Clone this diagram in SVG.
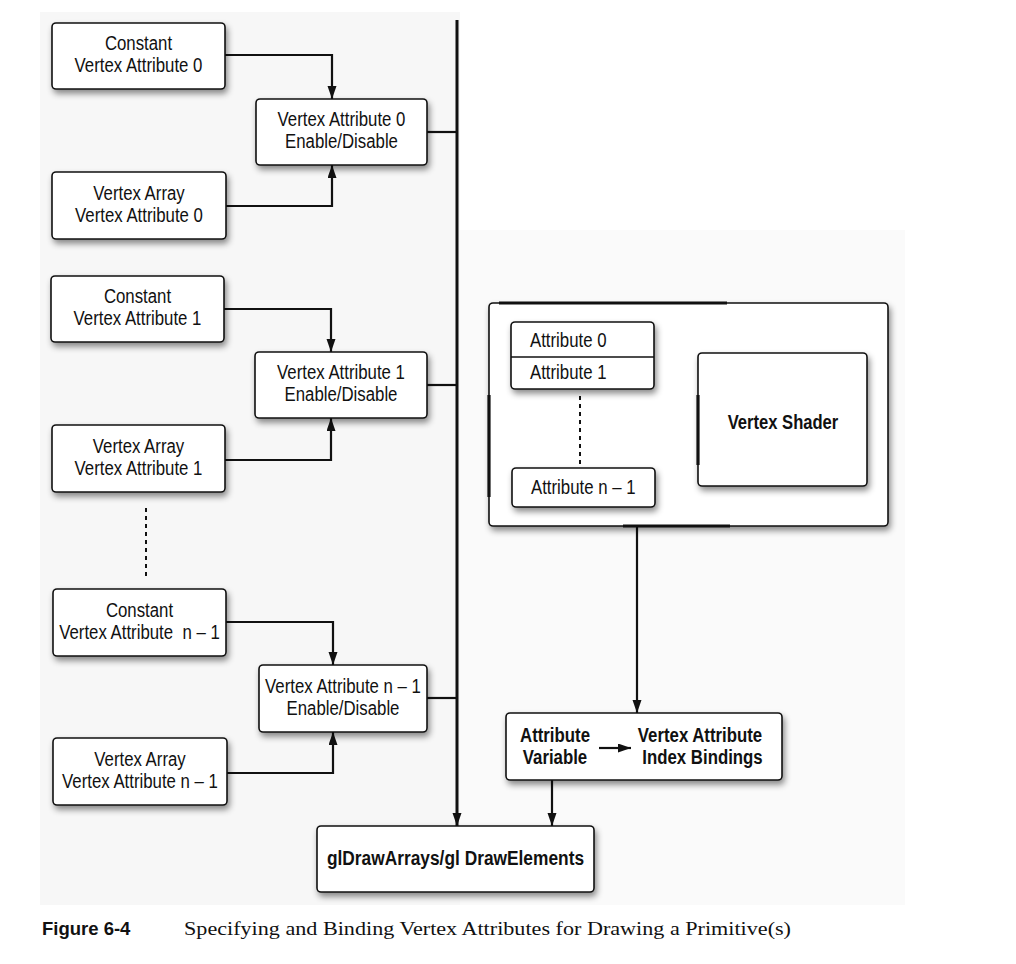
<svg xmlns="http://www.w3.org/2000/svg" width="1016" height="964" viewBox="0 0 1016 964">
<style>
.box{fill:#fff;stroke:#111;stroke-width:1.6;filter:url(#sh)}
.t{font-family:"Liberation Sans",Arial,sans-serif;font-size:21px;fill:#111;text-anchor:middle}
.tl{text-anchor:start}
.b{font-weight:bold}
.c{fill:none;stroke:#111;stroke-width:2.2}
.bus{fill:none;stroke:#111;stroke-width:3}
.dot{fill:none;stroke:#111;stroke-width:2;stroke-dasharray:4,4}
.heavy{fill:none;stroke:#111;stroke-width:3.2}
</style>
<defs>
<filter id="sh" x="-10%" y="-10%" width="130%" height="140%">
<feDropShadow dx="2" dy="4" stdDeviation="3" flood-color="#000" flood-opacity="0.45"/>
</filter>
<marker id="ah" markerUnits="userSpaceOnUse" markerWidth="14" markerHeight="10" refX="13" refY="4.5" orient="auto">
<path d="M0,0 L13,4.5 L0,9 z" fill="#111"/>
</marker>
</defs>
<rect width="1016" height="964" fill="#fff"/>
<rect x="40" y="12" width="420" height="893" fill="#f7f7f7"/>
<rect x="460" y="230" width="445" height="675" fill="#fafafa"/>

<g id="connectors">
<path class="c" d="M225,55 H332 V99" marker-end="url(#ah)"/>
<path class="c" d="M226,206 H332 V165" marker-end="url(#ah)"/>
<path class="c" d="M427,132 H457"/>
<path class="c" d="M224,309 H331 V352" marker-end="url(#ah)"/>
<path class="c" d="M225,460 H331 V418" marker-end="url(#ah)"/>
<path class="c" d="M427,385 H457"/>
<path class="c" d="M226,622 H333 V665" marker-end="url(#ah)"/>
<path class="c" d="M227,773 H333 V732" marker-end="url(#ah)"/>
<path class="c" d="M427,698 H457"/>
<path class="bus" d="M457,20 V826" marker-end="url(#ah)"/>
<path class="c" d="M637,527 V713" marker-end="url(#ah)"/>
<path class="c" d="M552,780 V826" marker-end="url(#ah)"/>
<path class="c" d="M641,421 H680" marker-end="url(#ah)"/>
<path class="dot" d="M146,508 V578"/>
</g>

<g id="const0"><rect class="box" x="52" y="23" width="173" height="66" rx="4"/>
<text class="t" transform="matrix(0.8 0 0 1 138.5 50)">Constant</text><text class="t" transform="matrix(0.8 0 0 1 138.5 72)">Vertex Attribute 0</text></g>
<g id="enable0"><rect class="box" x="256" y="99" width="171" height="66" rx="4"/>
<text class="t" transform="matrix(0.8 0 0 1 341.5 126)">Vertex Attribute 0</text><text class="t" transform="matrix(0.8 0 0 1 341.5 148)">Enable/Disable</text></g>
<g id="array0"><rect class="box" x="52" y="172" width="174" height="67" rx="4"/>
<text class="t" transform="matrix(0.8 0 0 1 139 199.5)">Vertex Array</text><text class="t" transform="matrix(0.8 0 0 1 139 221.5)">Vertex Attribute 0</text></g>

<g id="const1"><rect class="box" x="51" y="276" width="173" height="66" rx="4"/>
<text class="t" transform="matrix(0.8 0 0 1 137.5 303)">Constant</text><text class="t" transform="matrix(0.8 0 0 1 137.5 325)">Vertex Attribute 1</text></g>
<g id="enable1"><rect class="box" x="255" y="352" width="172" height="66" rx="4"/>
<text class="t" transform="matrix(0.8 0 0 1 341 379)">Vertex Attribute 1</text><text class="t" transform="matrix(0.8 0 0 1 341 401)">Enable/Disable</text></g>
<g id="array1"><rect class="box" x="52" y="425" width="173" height="67" rx="4"/>
<text class="t" transform="matrix(0.8 0 0 1 138.5 452.5)">Vertex Array</text><text class="t" transform="matrix(0.8 0 0 1 138.5 474.5)">Vertex Attribute 1</text></g>

<g id="constn"><rect class="box" x="53" y="589" width="173" height="67" rx="4"/>
<text class="t" transform="matrix(0.8 0 0 1 139.5 616.5)">Constant</text><text class="t" transform="matrix(0.8 0 0 1 139.5 638.5)">Vertex Attribute&#160;&#160;n – 1</text></g>
<g id="enablen"><rect class="box" x="259" y="665" width="168" height="67" rx="4"/>
<text class="t" transform="matrix(0.8 0 0 1 343 692.5)">Vertex Attribute n – 1</text><text class="t" transform="matrix(0.8 0 0 1 343 714.5)">Enable/Disable</text></g>
<g id="arrayn"><rect class="box" x="53" y="738" width="174" height="67" rx="4"/>
<text class="t" transform="matrix(0.8 0 0 1 140 765.5)">Vertex Array</text><text class="t" transform="matrix(0.8 0 0 1 140 787.5)">Vertex Attribute n – 1</text></g>

<g id="program">
<rect class="box" x="489" y="303" width="399" height="223" rx="4"/>
<path class="heavy" d="M499,303 H727 M489,395 V497 M623,526 H730"/>
</g>
<g id="attributes">
<rect class="box" x="511" y="322" width="143" height="67" rx="4"/>
<line x1="511" y1="357" x2="654" y2="357" stroke="#111" stroke-width="1.5"/>
<text class="t tl" transform="matrix(0.8 0 0 1 530 347)">Attribute 0</text>
<text class="t tl" transform="matrix(0.8 0 0 1 530 379)">Attribute 1</text>
<path class="dot" d="M580,396 V464"/>
</g>
<g id="attributen"><rect class="box" x="512" y="468" width="143" height="39" rx="4"/>
<text class="t tl" transform="matrix(0.8 0 0 1 531 494)">Attribute n – 1</text></g>
<g id="shader"><rect class="box" x="698" y="353" width="169" height="133" rx="4"/>
<path class="heavy" d="M698,395 V465"/>
<text class="t b" transform="matrix(0.79 0 0 1 783 429)">Vertex Shader</text></g>

<g id="bindings"><rect class="box" x="506" y="713" width="276" height="67" rx="4"/>
<text class="t b" transform="matrix(0.8 0 0 1 555 742)">Attribute</text><text class="t b" transform="matrix(0.8 0 0 1 555 764)">Variable</text>
<path class="c" d="M599,748 H631" marker-end="url(#ah)"/>
<text class="t b" transform="matrix(0.8 0 0 1 700 742)">Vertex Attribute</text><text class="t b" transform="matrix(0.8 0 0 1 702.5 764)">Index Bindings</text></g>

<g id="draw"><rect class="box" x="317" y="826" width="277" height="66" rx="4"/>
<text class="t b" transform="matrix(0.825 0 0 1 455.5 865)">glDrawArrays/gl DrawElements</text></g>

<g id="caption">
<text x="42" y="935" font-family="Liberation Sans,Arial,sans-serif" font-weight="bold" font-size="18.5" fill="#111">Figure 6-4</text>
<text x="184" y="935" font-family="Liberation Serif,Times New Roman,serif" font-size="19" fill="#111" textLength="607" lengthAdjust="spacingAndGlyphs">Specifying and Binding Vertex Attributes for Drawing a Primitive(s)</text>
</g>
</svg>
